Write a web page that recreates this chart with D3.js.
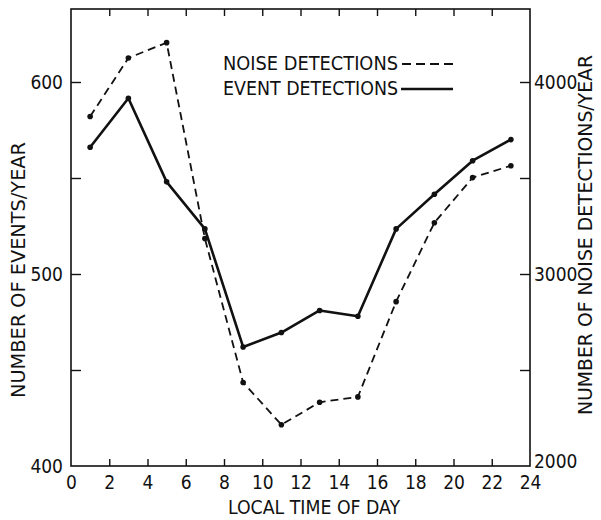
<!DOCTYPE html>
<html>
<head>
<meta charset="utf-8">
<script src="https://cdn.jsdelivr.net/npm/d3@7"></script>
<style>
  html, body { margin: 0; padding: 0; background: #fff; }
  svg { display: block; }
  text { font-family: "Liberation Sans Narrow", "DejaVu Sans Condensed", "Liberation Sans", sans-serif; fill: #111; }
</style>
</head>
<body>
<svg id="chart" width="601" height="520"></svg>
<script>
// ---- data ----
const hours = [1, 3, 5, 7, 9, 11, 13, 15, 17, 19, 21, 23];
const eventDetections = [566, 591.5, 548, 523.5, 462, 469.5, 481, 478, 523.5, 541.5, 559, 570];
const noiseDetections = [3820, 4125, 4205, 3185, 2435, 2215, 2332, 2360, 2856, 3267, 3502, 3564];
const xTicks = [0, 2, 4, 6, 8, 10, 12, 14, 16, 18, 20, 22, 24];
const leftTicks = [400, 450, 500, 550, 600];
const leftLabels = [400, 500, 600];
const rightTicks = [2000, 2500, 3000, 3500, 4000];
const rightLabels = [2000, 3000, 4000];
const legendLabels = ["NOISE DETECTIONS", "EVENT DETECTIONS"];

const svg = d3.select("#chart");
const L = 71, R = 530, T = 9, B = 466;
const x = d3.scaleLinear().domain([0, 24]).range([L, R]);
const yL = d3.scaleLinear().domain([400, 600]).range([B, 82]);
const yR = d3.scaleLinear().domain([2000, 4000]).range([B, 82]);
const ink = "#111";

// frame
svg.append("rect").attr("x", L).attr("y", T).attr("width", R - L).attr("height", B - T)
  .attr("fill", "none").attr("stroke", ink).attr("stroke-width", 1.6);

function styleAxis(g) {
  g.select(".domain").remove();
  g.selectAll(".tick line").attr("stroke", ink).attr("stroke-width", 1.4);
  g.selectAll(".tick text").attr("font-size", 19).attr("fill", ink)
    .style("font-family", '"Liberation Sans Narrow", "DejaVu Sans Condensed", sans-serif');
}

// bottom axis
svg.append("g").attr("transform", `translate(0,${B})`)
  .call(d3.axisBottom(x).tickValues(xTicks).tickSizeInner(-7).tickSizeOuter(0).tickPadding(10).tickFormat(d3.format("d")))
  .call(styleAxis)
  .call(g => g.selectAll(".tick").filter(d => d === 0 || d === 24).select("line").remove());

// top axis (ticks only)
svg.append("g").attr("transform", `translate(0,${T})`)
  .call(d3.axisTop(x).tickValues(xTicks.filter(d => d > 0 && d < 24)).tickSizeInner(-7).tickSizeOuter(0).tickFormat(""))
  .call(styleAxis);

// left axis
svg.append("g").attr("transform", `translate(${L},0)`)
  .call(d3.axisLeft(yL).tickValues(leftTicks).tickSizeInner(-10).tickSizeOuter(0).tickPadding(8)
    .tickFormat(d => leftLabels.includes(d) ? d : ""))
  .call(styleAxis)
  .call(g => g.selectAll(".tick").filter(d => d === 400).select("line").remove());

// right axis
svg.append("g").attr("transform", `translate(${R},0)`)
  .call(d3.axisRight(yR).tickValues(rightTicks).tickSizeInner(-10).tickSizeOuter(0).tickPadding(4)
    .tickFormat(d => rightLabels.includes(d) ? d : ""))
  .call(styleAxis)
  .call(g => g.selectAll(".tick").filter(d => d === 2000).select("line").remove())
  .call(g => g.selectAll(".tick").filter(d => d === 2000).select("text").attr("dy", "0.1em"));

// lines
const noiseLine = d3.line().x((d, i) => x(hours[i])).y(d => yR(d));
const eventLine = d3.line().x((d, i) => x(hours[i])).y(d => yL(d));

svg.append("path").datum(noiseDetections).attr("d", noiseLine)
  .attr("fill", "none").attr("stroke", ink).attr("stroke-width", 1.8).attr("stroke-dasharray", "8,5");
svg.append("path").datum(eventDetections).attr("d", eventLine)
  .attr("fill", "none").attr("stroke", ink).attr("stroke-width", 2.6).attr("stroke-linejoin", "round");

svg.append("g").selectAll("circle").data(noiseDetections).join("circle")
  .attr("cx", (d, i) => x(hours[i])).attr("cy", d => yR(d)).attr("r", 2.8).attr("fill", ink);
svg.append("g").selectAll("circle").data(eventDetections).join("circle")
  .attr("cx", (d, i) => x(hours[i])).attr("cy", d => yL(d)).attr("r", 2.8).attr("fill", ink);

// legend
const lg = svg.append("g");
lg.append("text").attr("x", 223).attr("y", 70).attr("font-size", 19)
  .attr("textLength", 175).attr("lengthAdjust", "spacingAndGlyphs").text(legendLabels[0]);
lg.append("text").attr("x", 223).attr("y", 95).attr("font-size", 19)
  .attr("textLength", 175).attr("lengthAdjust", "spacingAndGlyphs").text(legendLabels[1]);
lg.append("line").attr("x1", 402).attr("x2", 453).attr("y1", 64).attr("y2", 64)
  .attr("stroke", ink).attr("stroke-width", 1.8).attr("stroke-dasharray", "9,5");
lg.append("line").attr("x1", 401).attr("x2", 453).attr("y1", 89).attr("y2", 89)
  .attr("stroke", ink).attr("stroke-width", 2.6);

// axis titles
svg.append("text").attr("transform", "translate(25,270) rotate(-90)").attr("text-anchor", "middle")
  .attr("font-size", 20).attr("textLength", 256).attr("lengthAdjust", "spacingAndGlyphs")
  .text("NUMBER OF EVENTS/YEAR");
svg.append("text").attr("transform", "translate(592,235) rotate(-90)").attr("text-anchor", "middle")
  .attr("font-size", 20).attr("textLength", 360).attr("lengthAdjust", "spacingAndGlyphs")
  .text("NUMBER OF NOISE DETECTIONS/YEAR");
svg.append("text").attr("x", 314).attr("y", 514).attr("text-anchor", "middle")
  .attr("font-size", 19).attr("textLength", 172).attr("lengthAdjust", "spacingAndGlyphs")
  .text("LOCAL TIME OF DAY");
</script>
</body>
</html>
